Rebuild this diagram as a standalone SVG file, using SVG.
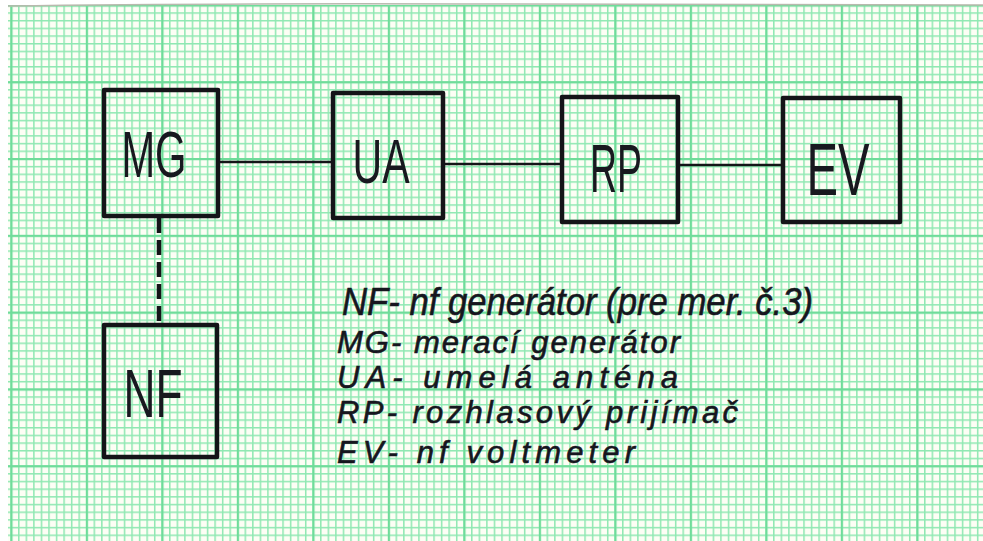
<svg xmlns="http://www.w3.org/2000/svg" width="983" height="541" viewBox="0 0 983 541">
<style>
.box{fill:none;stroke:#141418;stroke-width:4.5;stroke-linejoin:round}
.wire{stroke:#141418;stroke-width:2.6;fill:none}
.dash{stroke:#141418;stroke-width:4.5;fill:none;stroke-dasharray:15 7}
.lbl{font-family:"Liberation Sans","DejaVu Sans",sans-serif;fill:#18181f;text-anchor:middle}
.leg{font-family:"Liberation Sans","DejaVu Sans",sans-serif;font-style:italic;fill:#16161e;stroke:#16161e;stroke-width:0.6}
</style>
<defs>
<pattern id="minor" x="10.5" y="4.6" width="7.55" height="7.68" patternUnits="userSpaceOnUse">
<rect x="0" y="0" width="1.5" height="7.68" fill="#8fe8b2"/>
<rect x="0" y="0" width="7.55" height="1.5" fill="#8fe8b2"/>
</pattern>
<pattern id="major" x="10.3" y="4.4" width="75.5" height="76.8" patternUnits="userSpaceOnUse">
<rect x="0" y="0" width="2.2" height="76.8" fill="#6fdc9a"/>
<rect x="0" y="0" width="75.5" height="2.2" fill="#6fdc9a"/>
</pattern>
</defs>
<rect x="0" y="0" width="983" height="541" fill="#ffffff"/>
<rect x="8" y="5" width="975" height="536" fill="#fdfef5"/>
<rect x="8" y="5" width="975" height="536" fill="url(#minor)"/>
<rect x="8" y="5" width="975" height="536" fill="url(#major)"/>
<path d="M8 6 Q200 3 500 4 T983 5" stroke="#b9b9ae" stroke-width="1.5" fill="none"/>
<g id="connectors">
<line class="wire" x1="218" y1="162" x2="333" y2="162"/>
<line class="wire" x1="443" y1="164" x2="562" y2="164"/>
<line class="wire" x1="678" y1="165" x2="783" y2="165"/>
<line class="dash" x1="159" y1="218" x2="159" y2="325"/>
</g>
<g id="MG">
<rect class="box" x="104" y="90" width="114" height="126"/>
<text class="lbl" x="154" y="177" font-size="65" textLength="65" lengthAdjust="spacingAndGlyphs">MG</text>
</g>
<g id="UA">
<rect class="box" x="333" y="93" width="110" height="125"/>
<text class="lbl" x="381" y="183" font-size="63" textLength="57" lengthAdjust="spacingAndGlyphs">UA</text>
</g>
<g id="RP">
<rect class="box" x="562" y="97" width="116" height="125"/>
<text class="lbl" x="616" y="192" font-size="69" textLength="52" lengthAdjust="spacingAndGlyphs">RP</text>
</g>
<g id="EV">
<rect class="box" x="783" y="98" width="117" height="124"/>
<text class="lbl" x="838" y="195" font-size="75" textLength="63" lengthAdjust="spacingAndGlyphs">EV</text>
</g>
<g id="NF">
<rect class="box" x="104" y="325" width="113" height="132"/>
<text class="lbl" x="153" y="417" font-size="69" textLength="59" lengthAdjust="spacingAndGlyphs">NF</text>
</g>
<g id="legend">
<text class="leg" x="342" y="315" font-size="38" textLength="471" lengthAdjust="spacingAndGlyphs">NF- nf generátor (pre mer. č.3)</text>
<text class="leg" x="337" y="353" font-size="31" textLength="343" lengthAdjust="spacing">MG- merací generátor</text>
<text class="leg" x="337" y="388" font-size="31" textLength="341" lengthAdjust="spacing">UA- umelá anténa</text>
<text class="leg" x="337" y="423" font-size="31" textLength="401" lengthAdjust="spacing">RP- rozhlasový prijímač</text>
<text class="leg" x="337" y="463" font-size="31" textLength="298" lengthAdjust="spacing">EV- nf voltmeter</text>
</g>
</svg>
